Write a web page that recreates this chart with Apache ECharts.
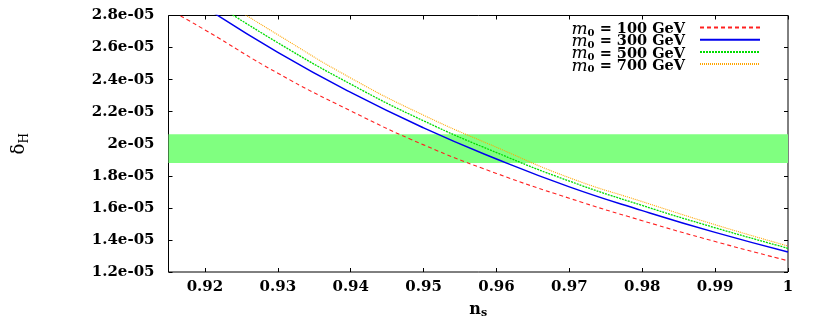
<!DOCTYPE html>
<html>
<head>
<meta charset="utf-8">
<script src="https://cdn.jsdelivr.net/npm/echarts@6/dist/echarts.min.js"></script>
<style>
  html, body { margin: 0; padding: 0; background: #fff; }
  #chart { width: 830px; height: 327px; }
</style>
</head>
<body>
<div id="chart"></div>
<script>
  // n_s grid and delta_H values (in units of 1e-5)
  const nsRed = [0.915, 0.92, 0.93, 0.94, 0.95, 0.96, 0.97, 0.98, 0.99, 1.0]
  const ns = [0.92, 0.93, 0.94, 0.95, 0.96, 0.97, 0.98, 0.99, 1.0]
  const m100 = [2.84, 2.71, 2.44, 2.205, 1.993, 1.815, 1.66, 1.52, 1.39, 1.27]
  const m300 = [2.852, 2.57, 2.32, 2.099, 1.905, 1.731, 1.583, 1.447, 1.325]
  const m500 = [2.915, 2.63, 2.372, 2.143, 1.945, 1.767, 1.615, 1.476, 1.348]
  const m700 = [2.963, 2.68, 2.41, 2.178, 1.978, 1.788, 1.639, 1.495, 1.362]
  const masses = [100, 300, 500, 700]
  // observed band
  const bandLow = 1.88
  const bandHigh = 2.06
  const xTicks = [0.92, 0.93, 0.94, 0.95, 0.96, 0.97, 0.98, 0.99, 1]

  const font = 'DejaVu Serif'
  const pair = (xs, ys) => ys.map((v, i) => [xs[i], v])

  let chart = echarts.init(document.getElementById('chart'))

  const curve = (idx, xs, ys, color, type, width) => ({
    name: 'm0 = ' + masses[idx] + ' GeV',
    type: 'line',
    data: pair(xs, ys),
    smooth: true,
    symbol: 'none',
    z: 3,
    lineStyle: { color: color, width: width, type: type },
    itemStyle: { color: color }
  })

  let option = {
    animation: false,
    grid: { left: 168.5, right: 42, top: 15.5, bottom: 55, show: true, borderColor: '#000', borderWidth: 1 },
    xAxis: [{
      type: 'value', min: 0.915, max: 1.0,
      axisLine: { show: false },
      splitLine: { show: false },
      axisTick: { inside: true, length: 4, lineStyle: { color: '#000' }, customValues: xTicks },
      axisLabel: {
        customValues: xTicks, margin: 8, color: '#000',
        fontFamily: font, fontWeight: 'bold', fontSize: 15,
        formatter: v => String(v)
      },
      name: '{n|n}{s|s}', nameLocation: 'middle', nameGap: 24,
      nameTextStyle: {
        rich: {
          n: { fontFamily: font, fontWeight: 'bold', fontSize: 16, color: '#000', lineHeight: 16 },
          s: { fontFamily: font, fontWeight: 'bold', fontSize: 11, color: '#000', lineHeight: 6, padding: [8, 0, 0, 0] }
        }
      }
    }, {
      type: 'value', min: 0.915, max: 1.0, position: 'top',
      axisLine: { show: false }, splitLine: { show: false },
      axisTick: { inside: true, length: 4, lineStyle: { color: '#000' }, customValues: xTicks },
      axisLabel: { show: false, customValues: xTicks }
    }],
    yAxis: [{
      type: 'value', min: 1.2, max: 2.8, interval: 0.2,
      axisLine: { show: false }, splitLine: { show: false },
      axisTick: { inside: true, length: 4, lineStyle: { color: '#000' } },
      axisLabel: {
        margin: 14, color: '#000', fontFamily: font, fontWeight: 'bold', fontSize: 15,
        formatter: v => (+v.toFixed(1)) + 'e-05'
      },
      name: '{d|δ}{h|H}', nameLocation: 'middle', nameGap: 140, nameRotate: 90,
      nameTextStyle: {
        rich: {
          d: { fontFamily: font, fontSize: 18, color: '#000', lineHeight: 18 },
          h: { fontFamily: font, fontSize: 12, color: '#000', lineHeight: 6, padding: [10, 0, 0, 0] }
        }
      }
    }, {
      type: 'value', min: 1.2, max: 2.8, interval: 0.2, position: 'right',
      axisLine: { show: false }, splitLine: { show: false },
      axisTick: { inside: true, length: 4, lineStyle: { color: '#000' } },
      axisLabel: { show: false }
    }],
    legend: {
      orient: 'vertical', align: 'right', right: 69, top: 17, padding: 0,
      itemWidth: 60, itemHeight: 12.8, itemGap: -8.8,
      itemStyle: { opacity: 0 },
      formatter: name => '{m|m}{s|0}{t| = ' + name.split(' ')[2] + ' GeV}',
      textStyle: {
        rich: {
          m: { fontFamily: font, fontStyle: 'italic', fontSize: 17, color: '#000', lineHeight: 12.8, padding: [4, 0, 0, 0] },
          s: { fontFamily: font, fontWeight: 'bold', fontSize: 10, color: '#000', lineHeight: 5, padding: [11, 0, 0, 0] },
          t: { fontFamily: font, fontWeight: 'bold', fontSize: 14.5, color: '#000', lineHeight: 12.8, padding: [4, 10, 0, 0] }
        }
      }
    },
    series: [
      {
        type: 'line', data: [], silent: true, z: 1,
        markArea: {
          silent: true,
          itemStyle: { color: '#80ff80' },
          data: [[{ yAxis: bandLow }, { yAxis: bandHigh }]]
        }
      },
      curve(0, nsRed, m100, '#ff2020', [4, 3], 1.1),
      curve(1, ns, m300, '#0000ee', 'solid', 1.5),
      curve(2, ns, m500, '#00dd00', [2, 1], 1.3),
      curve(3, ns, m700, '#ffa500', [1, 1], 1.1)
    ]
  }
  chart.setOption(option)
</script>
</body>
</html>
